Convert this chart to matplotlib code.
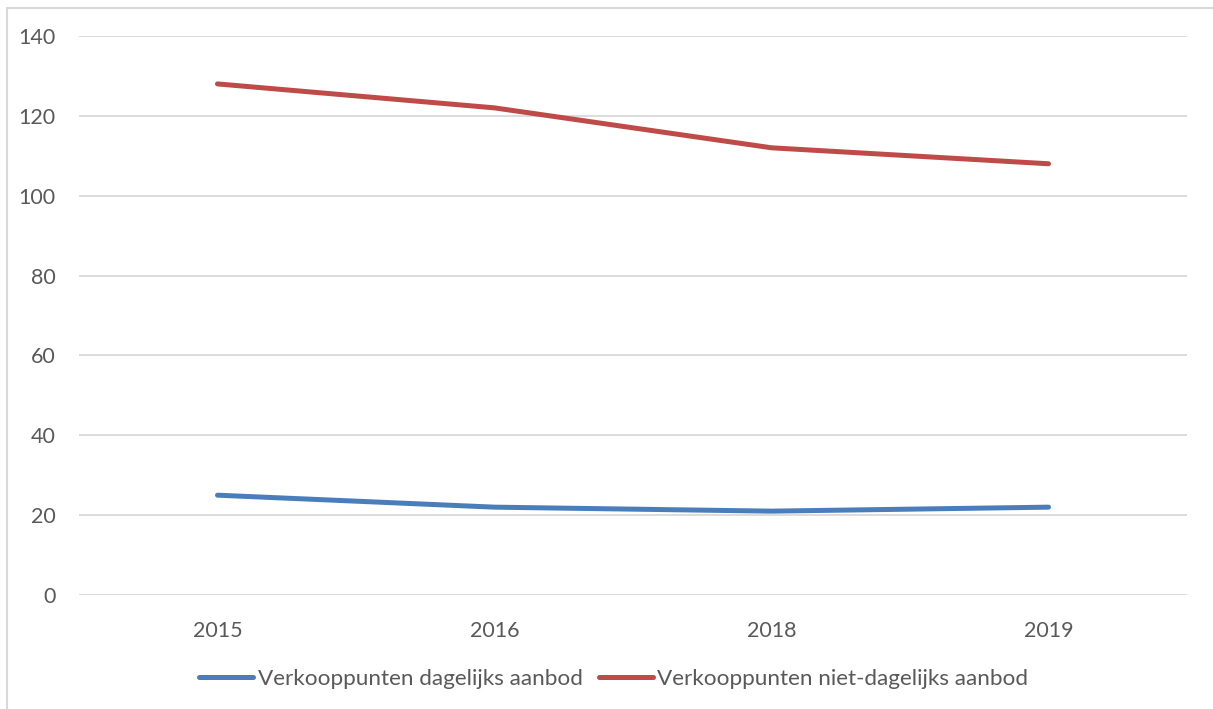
import matplotlib.pyplot as plt
from matplotlib.patches import Rectangle

# data
years = ['2015', '2016', '2018', '2019']
dagelijks = [25, 22, 21, 22]
niet_dagelijks = [128, 122, 112, 108]
y_ticks = [0, 20, 40, 60, 80, 100, 120, 140]

W, H = 1213, 709
plt.rcParams['font.family'] = ['Lato', 'DejaVu Sans']

fig = plt.figure(figsize=(W / 100, H / 100), dpi=100)
ax = fig.add_axes([79 / W, 1 - 595 / H, (1187 - 79) / W, (595 - 36) / H])

x = range(len(years))
ax.plot(x, dagelijks, color='#4A7EBB', linewidth=3.6, solid_capstyle='round',
        label='Verkooppunten dagelijks aanbod')
ax.plot(x, niet_dagelijks, color='#BE4B48', linewidth=3.6, solid_capstyle='round',
        label='Verkooppunten niet-dagelijks aanbod')

ax.set_xlim(-0.5, len(years) - 0.5)
ax.set_ylim(0, 140)
ax.set_yticks(y_ticks)
ax.set_xticks(list(x))
ax.set_xticklabels(years)
ax.grid(axis='y', color='#D9D9D9', linewidth=1.3)
ax.set_axisbelow(True)
for s in ax.spines.values():
    s.set_visible(False)
ax.tick_params(length=0, labelsize=15.5, labelcolor='#595959')
ax.tick_params(axis='y', pad=17)
ax.tick_params(axis='x', pad=19)

# chart border (runs off the right/bottom edge in the source)
fig.patches.append(Rectangle((7 / W, -0.1), 1.2, 1 - 8 / H + 0.1,
                             transform=fig.transFigure, fill=False,
                             edgecolor='#D9D9D9', linewidth=1.5))

fig.legend(loc='center', bbox_to_anchor=(0.506, 1 - 679 / H), ncol=2,
           frameon=False, fontsize=16.2, labelcolor='#595959',
           handlelength=2.4, handletextpad=0.2, columnspacing=0.7)

fig.savefig('out.png', dpi=100)
